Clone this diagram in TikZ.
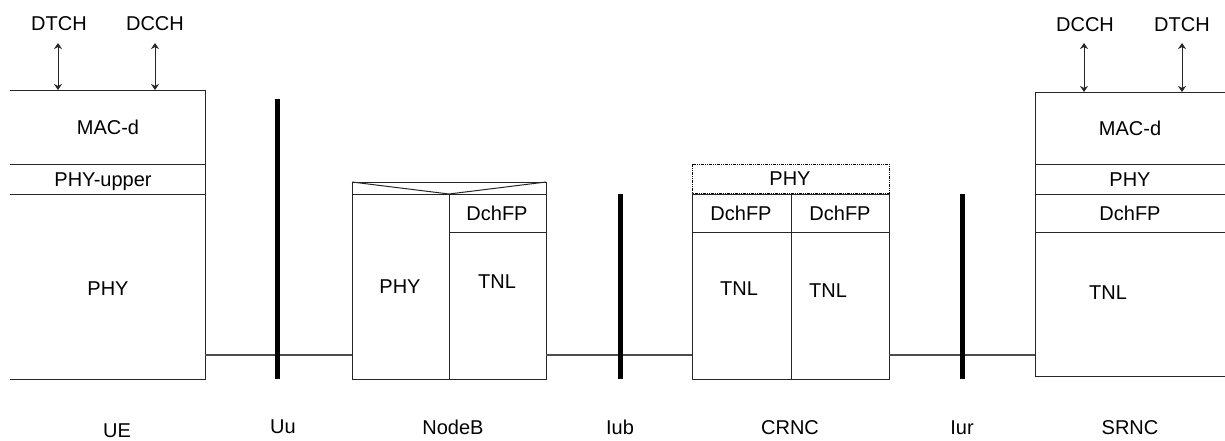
\documentclass[tikz,border=0pt]{standalone}
\usepackage{fontspec}
\setmainfont{Liberation Sans}
\usetikzlibrary{arrows.meta}
\begin{document}
\begin{tikzpicture}[x=1pt,y=-1pt,line width=1pt,
  lbl/.style={font=\fontsize{20}{24}\selectfont,inner sep=0pt,text height=14.5pt,text depth=0pt,anchor=center},
  frame/.style={draw=black!85,line width=1pt},
  bar/.style={draw=black,line width=5pt},
  link/.style={draw=black!70,line width=1.2pt},
  chan/.style={draw=black!85,line width=1pt,{Stealth[length=6pt,width=8pt]}-{Stealth[length=6pt,width=8pt]}},
  phydash/.style={draw=black,line width=1pt,dash pattern=on 3pt off 1pt on 1pt off 1pt on 1pt off 1pt}]
\useasboundingbox (0,0) rectangle (1225,440);

% ---------- UE ----------
\draw[frame] (10,90) -- (205,90) -- (205,379) -- (10,379);
\draw[frame] (10,164) -- (205,164);
\draw[frame] (10,194) -- (205,194);
\node[lbl] (uemac) at (108,127) {MAC-d};
\node[lbl] (ueup) at (103,179) {PHY-upper};
\node[lbl] (uephy) at (108,288) {PHY};
\node[lbl] (uedtch) at (59,23) {DTCH};
\node[lbl] (uedcch) at (155,23) {DCCH};
\coordinate (uea1) at (58,43); \coordinate (uea1b) at (58,90);
\coordinate (uea2) at (155,43); \coordinate (uea2b) at (155,90);
\draw[chan] (uea1) -- (uea1b);
\draw[chan] (uea2) -- (uea2b);

% ---------- NodeB ----------
\draw[frame] (352,182) rectangle (546,379);
\draw[frame] (352,194) -- (546,194);
\draw[frame] (352,182) -- (449,194) -- (546,182);
\draw[frame] (449,194) -- (449,379);
\draw[frame] (449,232) -- (546,232);
\node[lbl] (nbphy) at (400,286) {PHY};
\node[lbl] (nbfp) at (497,213) {DchFP};
\node[lbl] (nbtnl) at (497,281) {TNL};

% ---------- CRNC ----------
\draw[phydash] (692,164) rectangle (889,193);
\draw[frame] (692,194) rectangle (889,379);
\draw[frame] (791,194) -- (791,379);
\draw[frame] (692,232) -- (889,232);
\node[lbl] (crphy) at (790,178) {PHY};
\node[lbl] (crfp1) at (741,213) {DchFP};
\node[lbl] (crfp2) at (840,213) {DchFP};
\node[lbl] (crtnl1) at (739,288) {TNL};
\node[lbl] (crtnl2) at (828,290) {TNL};

% ---------- SRNC ----------
\draw[frame] (1225,92) -- (1035,92) -- (1035,376) -- (1225,376);
\draw[frame] (1035,164) -- (1225,164);
\draw[frame] (1035,194) -- (1225,194);
\draw[frame] (1035,232) -- (1225,232);
\node[lbl] (srmac) at (1130,128) {MAC-d};
\node[lbl] (srphy) at (1130,179) {PHY};
\node[lbl] (srfp) at (1130,213) {DchFP};
\node[lbl] (srtnl) at (1108,292) {TNL};
\node[lbl] (srdcch) at (1085,24) {DCCH};
\node[lbl] (srdtch) at (1182,24) {DTCH};
\coordinate (sra1) at (1084,43); \coordinate (sra1b) at (1084,92);
\coordinate (sra2) at (1182,43); \coordinate (sra2b) at (1182,92);
\draw[chan] (sra1) -- (sra1b);
\draw[chan] (sra2) -- (sra2b);

% ---------- links ----------
\coordinate (l1a) at (205,355); \coordinate (l1b) at (352,355);
\coordinate (l2a) at (546,355); \coordinate (l2b) at (692,355);
\coordinate (l3a) at (889,355); \coordinate (l3b) at (1035,355);
\draw[link] (l1a) -- (l1b);
\draw[link] (l2a) -- (l2b);
\draw[link] (l3a) -- (l3b);

% ---------- interfaces ----------
\coordinate (uut) at (277,99); \coordinate (uub) at (277,379);
\coordinate (iubt) at (620,194); \coordinate (iubb) at (620,379);
\coordinate (iurt) at (962,194); \coordinate (iurb) at (962,379);
\draw[bar] (uut) -- (uub);
\draw[bar] (iubt) -- (iubb);
\draw[bar] (iurt) -- (iurb);

% ---------- bottom labels ----------
\node[lbl] (lue) at (117,430) {UE};
\node[lbl] (luu) at (283,426) {Uu};
\node[lbl] (lnb) at (453,427) {NodeB};
\node[lbl] (liub) at (620,427) {Iub};
\node[lbl] (lcr) at (790,427) {CRNC};
\node[lbl] (liur) at (962,427) {Iur};
\node[lbl] (lsr) at (1130,427) {SRNC};
\end{tikzpicture}
\end{document}
